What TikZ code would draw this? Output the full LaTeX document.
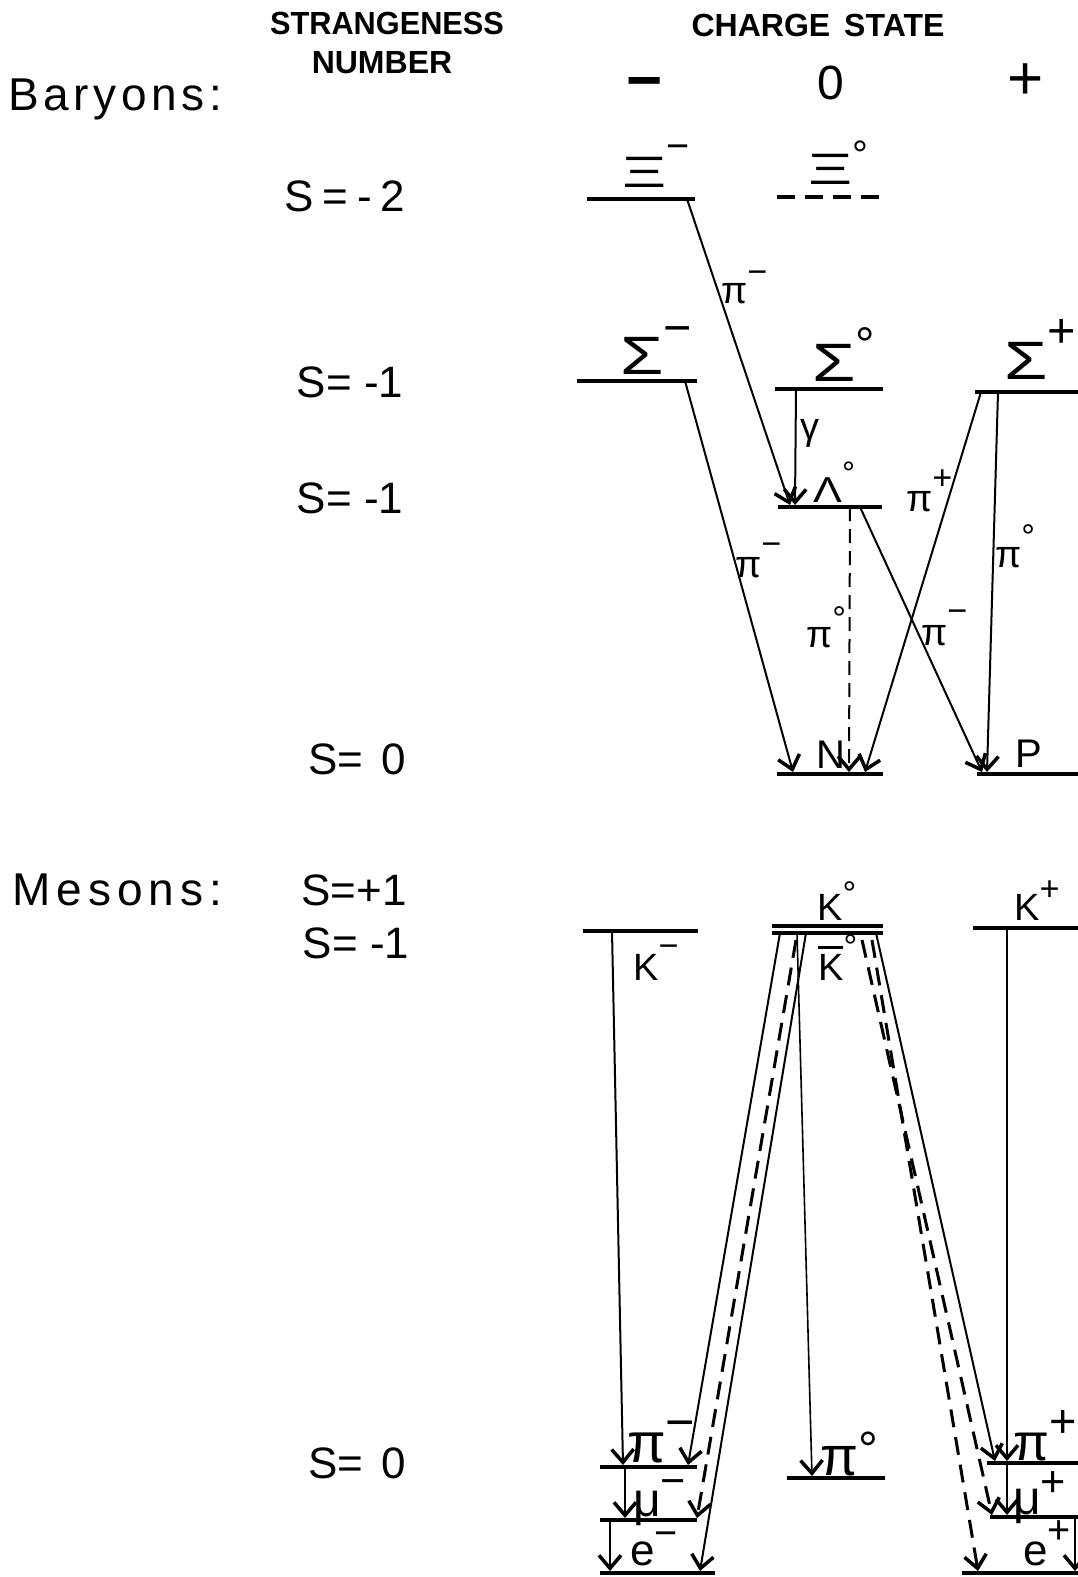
\documentclass[tikz,border=0pt]{standalone}
\usepackage{fontspec}
\usepackage{graphicx}
\setmainfont{Liberation Sans}
\usetikzlibrary{arrows.meta}
\newcommand\fs[1]{\fontsize{#1}{#1}\selectfont}
\newcommand\hsup[2][0.8em]{\raisebox{#1}{\scalebox{0.9}{#2}}}
\newcommand\stretchx[2]{\scalebox{#1}[1]{#2}}
\newcommand\kbar{\leavevmode\rlap{\raisebox{0.82em}{\rule{0.66em}{0.08em}}}K}
\begin{document}
\begin{tikzpicture}[x=1pt,y=-1pt,
  lvl/.style={line width=4.5pt},
  dlvl/.style={line width=4.5pt,dash pattern=on 18pt off 10pt},
  conn/.style={line width=2pt,-{Straight Barb[length=13pt,width=22pt,line width=3.5pt]}},
  dconn/.style={conn,dash pattern=on 14pt off 8pt},
  mdconn/.style={conn,line width=3pt,dash pattern=on 18pt off 10pt},
  lab/.style={inner sep=0pt,anchor=base west},
  hdr/.style={inner sep=0pt,font=\fs{32}\bfseries},
  slab/.style={inner sep=0pt,font=\fs{44}},
  alab/.style={inner sep=0pt,anchor=base west,font=\fs{38}}]
\useasboundingbox (0,0) rectangle (1078,1577);

% headers
\node[hdr] (hS) at (387,23) {\stretchx{0.96}{STRANGENESS}};
\node[hdr] (hN) at (382,63) {NUMBER};
\node[hdr] (hC) at (818,25) {CHARGE\hspace{14pt}STATE};
\node[inner sep=0pt,font=\fs{62}\bfseries] (qm) at (645,89) {−};
\node[inner sep=0pt,font=\fs{48}] (q0) at (831,83) {0};
\node[inner sep=0pt,font=\fs{62}] (qp) at (1026,82) {+};
\node[inner sep=0pt,anchor=west,font=\fs{46}] (bar) at (8,99) {\addfontfeature{LetterSpace=10}Baryons:};
\node[inner sep=0pt,anchor=west,font=\fs{46}] (mes) at (12,890) {\addfontfeature{LetterSpace=13}Mesons:};

% strangeness labels
\node[slab] (s1) at (345,196) {\addfontfeature{LetterSpace=20}S=-2};
\node[slab] (s2) at (350,382) {S= -1};
\node[slab] (s3) at (350,498) {S= -1};
\node[slab] (s4) at (357,759) {S=\hspace{18pt}0};
\node[slab] (s5) at (354,890) {S=+1};
\node[slab] (s6) at (356,943) {S= -1};
\node[slab] (s7) at (357,1463) {S=\hspace{18pt}0};

% baryon levels
\coordinate (XiM-l) at (587,199); \coordinate (XiM-r) at (695,199);
\coordinate (Xi0-l) at (777,197); \coordinate (Xi0-r) at (882,197);
\coordinate (SgM-l) at (577,381); \coordinate (SgM-r) at (697,381);
\coordinate (Sg0-l) at (775,389); \coordinate (Sg0-r) at (883,389);
\coordinate (SgP-l) at (975,392); \coordinate (SgP-r) at (1078,392);
\coordinate (Lm-l) at (778,507);  \coordinate (Lm-r) at (882,507);
\coordinate (N-l) at (777,774);   \coordinate (N-r) at (883,774);
\coordinate (P-l) at (977,774);   \coordinate (P-r) at (1078,774);
\draw[lvl] (XiM-l) -- (XiM-r);
\draw[dlvl] (Xi0-l) -- (Xi0-r);
\draw[lvl] (SgM-l) -- (SgM-r);
\draw[lvl] (Sg0-l) -- (Sg0-r);
\draw[lvl] (SgP-l) -- (SgP-r);
\draw[lvl] (Lm-l) -- (Lm-r);
\draw[lvl] (N-l) -- (N-r);
\draw[lvl] (P-l) -- (P-r);

% baryon labels
\node[lab,font=\fs{44}] (XiM) at (622,187) {\stretchx{1.55}{Ξ}\hsup[0.63em]{−}};
\node[lab,font=\fs{44}] (Xi0) at (808,184) {\stretchx{1.55}{Ξ}\hsup[0.36em]{°}};
\node[lab,font=\fs{54}] (SgM) at (620,374) {\stretchx{1.3}{Σ}\hsup[0.55em]{−}};
\node[lab,font=\fs{54}] (Sg0) at (812,381) {\stretchx{1.3}{Σ}\hsup[0.36em]{°}};
\node[lab,font=\fs{54}] (SgP) at (1004,379) {\stretchx{1.3}{Σ}\hsup[0.59em]{+}};
\node[lab,font=\fs{36}] (Lm) at (813,502) {\stretchx{1.2}{Λ}\hsup[0.5em]{°}};
\node[lab,font=\fs{40}] (N) at (816,768) {N};
\node[lab,font=\fs{40}] (P) at (1015,767) {P};

% baryon decays
\coordinate (b1s) at (687,199); \coordinate (b1e) at (790,505);
\coordinate (b2s) at (796,389); \coordinate (b2e) at (795,505);
\coordinate (b3s) at (685,381); \coordinate (b3e) at (793,772);
\coordinate (b4s) at (850,507); \coordinate (b4e) at (849,772);
\coordinate (b5s) at (860,507); \coordinate (b5e) at (982,772);
\coordinate (b6s) at (981,392); \coordinate (b6e) at (865,772);
\coordinate (b7s) at (998,392); \coordinate (b7e) at (987,772);
\draw[conn] (b1s) -- (b1e);
\draw[conn] (b2s) -- (b2e);
\draw[conn] (b3s) -- (b3e);
\draw[dconn] (b4s) -- (b4e);
\draw[conn] (b5s) -- (b5e);
\draw[conn] (b6s) -- (b6e);
\draw[conn] (b7s) -- (b7e);
\node[alab] (l1) at (721,303) {π\hsup[0.52em]{−}};
\node[inner sep=0pt,font=\fs{38}] (l2) at (810,433) {γ};
\node[alab] (l3) at (735,577) {π\hsup[0.57em]{−}};
\node[alab] (l4) at (806,647) {π\hsup[0.44em]{°}};
\node[alab] (l5) at (921,645) {π\hsup[0.6em]{−}};
\node[alab] (l6) at (906,511) {π\hsup[0.57em]{+}};
\node[alab] (l7) at (995,567) {π\hsup[0.5em]{°}};

% meson levels
\coordinate (KM-l) at (583,931); \coordinate (KM-r) at (698,931);
\coordinate (K0-l) at (772,926); \coordinate (K0-r) at (883,926);
\coordinate (Kb-l) at (772,933); \coordinate (Kb-r) at (883,933);
\coordinate (KP-l) at (973,928); \coordinate (KP-r) at (1078,928);
\coordinate (piM-l) at (600,1467); \coordinate (piM-r) at (697,1467);
\coordinate (muM-l) at (600,1520); \coordinate (muM-r) at (697,1520);
\coordinate (eM-l) at (600,1573); \coordinate (eM-r) at (715,1573);
\coordinate (pi0-l) at (787,1478); \coordinate (pi0-r) at (885,1478);
\coordinate (piP-l) at (987,1463); \coordinate (piP-r) at (1078,1463);
\coordinate (muP-l) at (990,1517); \coordinate (muP-r) at (1078,1517);
\coordinate (eP-l) at (962,1573); \coordinate (eP-r) at (1078,1573);
\draw[lvl] (KM-l) -- (KM-r);
\draw[line width=3.5pt] (K0-l) -- (K0-r);
\draw[line width=3.5pt] (Kb-l) -- (Kb-r);
\draw[lvl] (KP-l) -- (KP-r);
\draw[lvl] (piM-l) -- (piM-r);
\draw[lvl] (muM-l) -- (muM-r);
\draw[lvl] (eM-l) -- (eM-r);
\draw[lvl] (pi0-l) -- (pi0-r);
\draw[lvl] (piP-l) -- (piP-r);
\draw[lvl] (muP-l) -- (muP-r);
\draw[lvl] (eP-l) -- (eP-r);

% meson labels
\node[lab,font=\fs{38}] (KM) at (633,980) {K\hsup[0.6em]{−}};
\node[lab,font=\fs{38}] (K0) at (817,920) {K\hsup[0.39em]{°}};
\node[lab,font=\fs{38}] (Kb) at (818,980) {\kbar\hsup[0.57em]{°}};
\node[lab,font=\fs{38}] (KP) at (1014,920) {K\hsup[0.52em]{+}};
\node[lab,font=\fs{56}] (piM) at (627,1462) {π\hsup[0.4em]{−}};
\node[lab,font=\fs{48}] (muM) at (633,1516) {μ\hsup[0.42em]{−}};
\node[lab,font=\fs{44}] (eM) at (630,1565) {e\hsup[0.42em]{−}};
\node[lab,font=\fs{55}] (pi0) at (820,1475) {π\hsup[0.16em]{°}};
\node[lab,font=\fs{52}] (piP) at (1013,1460) {π\hsup[0.43em]{+}};
\node[lab,font=\fs{48}] (muP) at (1013,1514) {μ\hsup[0.36em]{+}};
\node[lab,font=\fs{44}] (eP) at (1023,1565) {e\hsup[0.48em]{+}};

% meson decays
\coordinate (m1s) at (612,931);  \coordinate (m1e) at (623,1465);
\coordinate (m2s) at (625,1467); \coordinate (m2e) at (625,1518);
\coordinate (m3s) at (610,1520); \coordinate (m3e) at (610,1571);
\coordinate (m4s) at (780,933);  \coordinate (m4e) at (688,1465);
\coordinate (m5s) at (796,940);  \coordinate (m5e) at (697,1518);
\coordinate (m6s) at (806,933);  \coordinate (m6e) at (700,1571);
\coordinate (m7s) at (797,933);  \coordinate (m7e) at (812,1476);
\coordinate (m8s) at (876,933);  \coordinate (m8e) at (995,1461);
\coordinate (m9s) at (862,940);  \coordinate (m9e) at (992,1515);
\coordinate (m10s) at (872,940); \coordinate (m10e) at (978,1571);
\coordinate (m11s) at (1007,928); \coordinate (m11e) at (1007,1461);
\coordinate (m12s) at (1007,1463); \coordinate (m12e) at (1007,1515);
\coordinate (m13s) at (1075,1517); \coordinate (m13e) at (1075,1571);
\draw[conn] (m1s) -- (m1e);
\draw[conn] (m2s) -- (m2e);
\draw[conn] (m3s) -- (m3e);
\draw[conn] (m4s) -- (m4e);
\draw[mdconn] (m5s) -- (m5e);
\draw[conn] (m6s) -- (m6e);
\draw[conn,line width=1.6pt] (m7s) -- (m7e);
\draw[conn] (m8s) -- (m8e);
\draw[mdconn] (m9s) -- (m9e);
\draw[mdconn] (m10s) -- (m10e);
\draw[conn] (m11s) -- (m11e);
\draw[conn] (m12s) -- (m12e);
\draw[conn] (m13s) -- (m13e);
\end{tikzpicture}
\end{document}
